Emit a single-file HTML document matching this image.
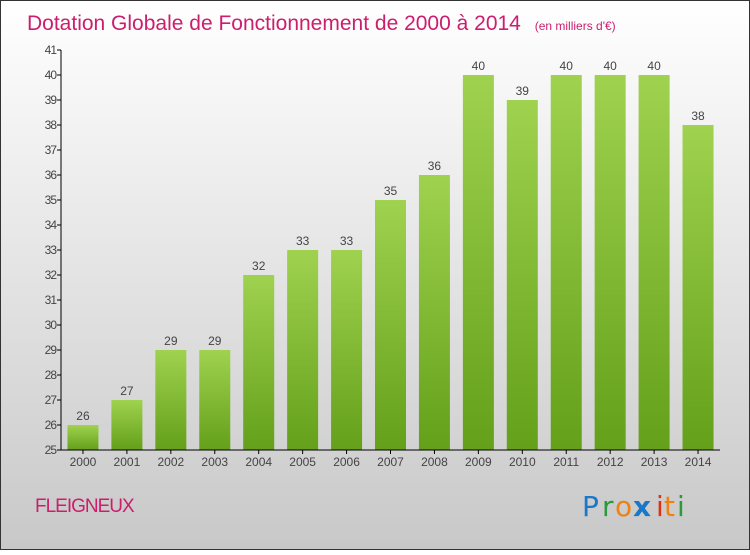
<!DOCTYPE html>
<html><head><meta charset="utf-8"><style>
html,body{margin:0;padding:0}
body{width:750px;height:550px;overflow:hidden;font-family:"Liberation Sans",sans-serif}
</style></head><body>
<svg width="750" height="550" xmlns="http://www.w3.org/2000/svg">
<defs>
<linearGradient id="bg" x1="0" y1="0" x2="0" y2="1"><stop offset="0" stop-color="#ffffff"/><stop offset="1" stop-color="#c8c8c8"/></linearGradient>
<linearGradient id="bar" x1="0" y1="0" x2="0" y2="1"><stop offset="0" stop-color="#9fd24f"/><stop offset="1" stop-color="#64a01a"/></linearGradient>
</defs>
<rect x="0.5" y="0.5" width="749" height="549" fill="url(#bg)" stroke="#333"/>
<text x="27" y="30" font-size="21" fill="#cc1e6e">Dotation Globale de Fonctionnement de 2000 à 2014 <tspan font-size="12" dx="8">(en milliers d'€)</tspan></text>
<g id="bars"></g>
<g id="axis"></g>
<text x="35" y="512" font-size="19" fill="#cc1e6e" letter-spacing="-1">FLEIGNEUX</text>
<g font-size="28" font-family="'DejaVu Sans',sans-serif">
<text x="582" y="516" fill="#1a78c8">P</text><text x="602" y="516" fill="#2a9a3a">r</text><text x="615" y="516" fill="#f08010">o</text><text x="633" y="516" fill="#1a78c8" font-weight="bold">x</text><text x="656" y="516" fill="#e03010">i</text><text x="664" y="516" fill="#f08010">t</text><text x="677" y="516" fill="#2a9a3a">i</text>
</g>
</svg>
<script>
const years=["2000","2001","2002","2003","2004","2005","2006","2007","2008","2009","2010","2011","2012","2013","2014"];
const values=[26,27,29,29,32,33,33,35,36,40,39,40,40,40,38];
const yTicks=[25,26,27,28,29,30,31,32,33,34,35,36,37,38,39,40,41];
const NS="http://www.w3.org/2000/svg";
const x0=61,x1=720,yMin=25,yMax=41,py0=450,py1=50;
const band=(x1-x0)/years.length;
const y=v=>py0-(v-yMin)/(yMax-yMin)*(py0-py1);
function mk(t,a,p){const e=document.createElementNS(NS,t);for(const k in a)e.setAttribute(k,a[k]);p.appendChild(e);return e;}
const bars=document.getElementById('bars'),axis=document.getElementById('axis');
years.forEach((yr,i)=>{
 const cx=x0+band*(i+0.5),w=31;
 const r=mk('rect',{x:cx-w/2,y:y(values[i]),width:w,height:py0-y(values[i]),fill:'url(#bar)'},bars);
 
 
 const t=mk('text',{x:cx,y:y(values[i])-5,'text-anchor':'middle','font-size':12,fill:'#444'},bars);
 t.textContent=values[i];
 
 
 const l=mk('text',{x:cx,y:py0+16,'text-anchor':'middle','font-size':12,fill:'#444'},axis);
 l.textContent=yr;
 
 
 mk('line',{x1:cx,x2:cx,y1:py0,y2:py0+4,stroke:'#000'},axis);
});
yTicks.forEach(v=>{
 mk('line',{x1:x0-4,x2:x0,y1:y(v),y2:y(v),stroke:'#000'},axis);
 const t=mk('text',{x:x0-5,y:y(v)+4,'text-anchor':'end','font-size':12,fill:'#444','letter-spacing':'-1'},axis);
 t.textContent=v;
 
 
});
const ya=mk('line',{x1:x0,x2:x0,y1:py1,y2:py0,stroke:'#000'},axis);


const xa=mk('line',{x1:x0,x2:x1,y1:py0,y2:py0,stroke:'#000'},axis);


</script>
</body></html>
